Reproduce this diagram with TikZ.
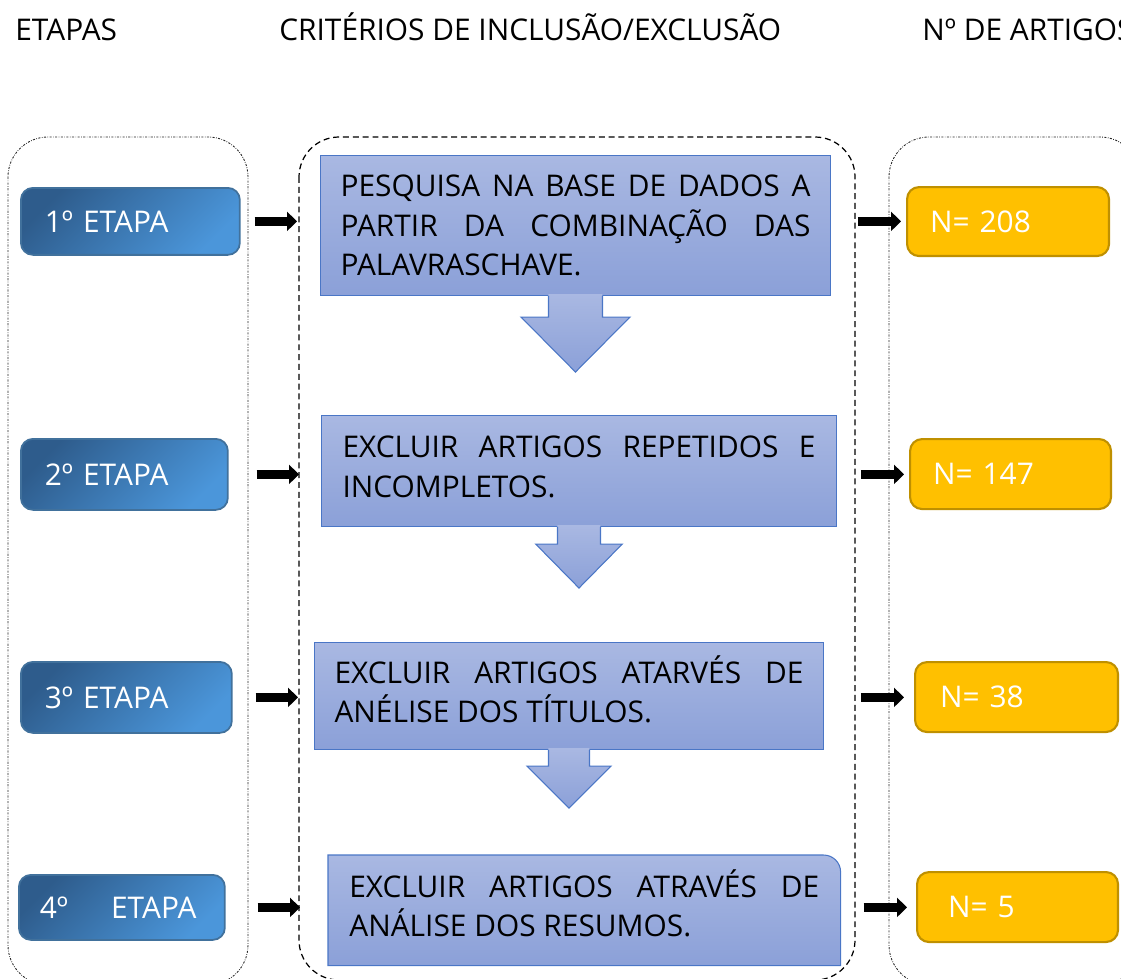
\documentclass[tikz,border=0pt]{standalone}
\usepackage{fontspec}
\setmainfont{Open Sans}
\usetikzlibrary{arrows.meta, positioning, backgrounds}
\tolerance=10000 \hbadness=10000 \hyphenpenalty=10000
\definecolor{etapadark}{HTML}{2E5C8C}
\definecolor{etapalight}{HTML}{4B96DA}
\definecolor{etapaedge}{HTML}{41719C}
\definecolor{crittop}{HTML}{A9B8E2}
\definecolor{critbot}{HTML}{8BA0D8}
\definecolor{critedge}{HTML}{4A76C6}
\definecolor{numfill}{HTML}{FFC000}
\definecolor{numedge}{HTML}{BF9000}
\tikzset{%
	every node/.style={font=\fontsize{17}{22.4}\selectfont},
	panel/.style={
		draw=black!85,
		line width=0.5pt,
		dash pattern=on 1.2pt off 0.8pt on 0.4pt off 0.8pt,
		rounded corners=0.8cm
	},
	midpanel/.style={
		draw=black,
		line width=0.7pt,
		dash pattern=on 3.4pt off 2.2pt,
		rounded corners=0.8cm
	},
	etapa/.style={
		anchor=north west,
		draw=etapaedge, line width=1pt,
		rounded corners=0.24cm,
		top color=etapadark, bottom color=etapalight, shading angle=45,
		text=white, align=left,
		inner xsep=0.48cm, inner ysep=0pt
	},
	crittext/.style={
		anchor=north west,
		text=black, align=justify,
		inner xsep=0.4cm, inner ysep=0pt
	},
	crit/.style={
		crittext,
		draw=critedge, line width=0.6pt,
		top color=crittop, bottom color=critbot
	},
	critshade/.style={top color=crittop, bottom color=critbot},
	critline/.style={draw=critedge, line width=0.6pt, line join=miter},
	numbox/.style={
		anchor=north west,
		draw=numedge, fill=numfill, line width=1.2pt,
		rounded corners=0.24cm,
		text=white, align=left,
		inner xsep=0.46cm, inner ysep=0pt
	},
	blk/.style={
		draw=black, line width=0.18cm,
		-{Triangle[length=0.2cm, width=0.38cm]}
	},
}
% block arrow under a criteria box: node, stem half, head half, stem height, head height
\newcommand{\critarrow}[5]{%
	\shade[critshade] (#1.south) ++(-#2,-2) -- ++(0,#4+2) -- ++(#2-#3,0) -- ++(#3,#5)
		-- ++(#3,-#5) -- ++(#2-#3,0) -- ++(0,-#4-2) -- cycle;
	\draw[critline] (#1.south) ++(-#2,0) -- ++(0,#4) -- ++(#2-#3,0) -- ++(#3,#5)
		-- ++(#3,-#5) -- ++(#2-#3,0) -- ++(0,-#4);
}

\begin{document}
\begin{tikzpicture}[x=0.02cm, y=-0.02cm]
	\clip (0,0) rectangle (1121,978);
	
	% headings
	\node[anchor=base west, inner sep=0pt] (hEtapas) at (15,40) {ETAPAS};
	\node[anchor=base west, inner sep=0pt] (hCrit) at (279,40) {CRITÉRIOS DE INCLUSÃO/EXCLUSÃO};
	\node[anchor=base west, inner sep=0pt] (hNum) at (922,40) {Nº DE ARTIGOS};
	
	% columns
	\draw[panel] (8,137) rectangle (248,985);
	\draw[midpanel] (299,137) rectangle (855,980);
	\draw[panel] (889,137) rectangle (1140,985);
	
	% etapas
	\node[etapa, text width=3.42cm, minimum height=1.34cm] (e1) at (20,187) {1º ETAPA};
	\node[etapa, text width=3.18cm, minimum height=1.42cm] (e2) at (20,438) {2º ETAPA};
	\node[etapa, text width=3.26cm, minimum height=1.42cm] (e3) at (20,661) {3º ETAPA};
	\node[etapa, inner xsep=0.42cm, text width=3.28cm, minimum height=1.3cm] (e4) at (18,874) {4º\hspace*{0.86cm}ETAPA};
	
	% criterios
	\node[crit, text width=9.4cm, minimum height=2.8cm] (c1) at (320,155)
		{PESQUISA NA BASE DE DADOS A\linebreak PARTIR DA COMBINAÇÃO DAS\linebreak PALAVRASCHAVE.};
	\node[crit, inner xsep=0.42cm, text width=9.46cm, minimum height=2.22cm] (c2) at (321,415)
		{EXCLUIR ARTIGOS REPETIDOS E\linebreak INCOMPLETOS.\vspace*{0.16cm}};
	\node[crit, text width=9.38cm, minimum height=2.14cm] (c3) at (314,642)
		{EXCLUIR ARTIGOS ATARVÉS DE\linebreak ANÉLISE DOS TÍTULOS.\vspace*{0.28cm}};
	\node[crittext, inner xsep=0.42cm, text width=9.4cm, minimum height=2.2cm] (c4) at (328,855)
		{EXCLUIR ARTIGOS ATRAVÉS DE\linebreak ANÁLISE DOS RESUMOS.\vspace*{0.28cm}};
	\begin{scope}[on background layer]
		\shade[critshade] (c4.south west) -- (c4.north west) [rounded corners=0.34cm] -- (c4.north east)
			[sharp corners] -- (c4.south east) -- cycle;
		\draw[critline] (c4.south west) -- (c4.north west) [rounded corners=0.34cm] -- (c4.north east)
			[sharp corners] -- (c4.south east) -- cycle;
	\end{scope}
	
	\critarrow{c1}{27}{54.5}{21}{55}
	\critarrow{c2}{21.5}{43.3}{17}{44}
	\critarrow{c3}{20.5}{42}{16}{42}
	
	% numero de artigos
	\node[numbox, text width=3.12cm, minimum height=1.38cm] (n1) at (906,186) {N= 208};
	\node[numbox, text width=3.1cm, minimum height=1.4cm] (n2) at (909,438) {N= 147};
	\node[numbox, inner xsep=0.5cm, text width=3.06cm, minimum height=1.4cm] (n3) at (914,661) {N= 38};
	\node[numbox, inner xsep=0.62cm, text width=2.78cm, minimum height=1.4cm] (n4) at (916,871) {N= 5};
	
	% arrows
	\draw[blk, shorten <=0.28cm, shorten >=0.46cm] (e1.east) -- (e1.east -| c1.west);
	\draw[blk, shorten <=0.56cm, shorten >=0.44cm] (e2.east) -- (e2.east -| c2.west);
	\draw[blk, shorten <=0.46cm, shorten >=0.32cm] (e3.east) -- (e3.east -| c3.west);
	\draw[blk, shorten <=0.64cm, shorten >=0.56cm] (e4.east) -- (e4.east -| c4.west);
	
	\draw[blk, shorten <=0.54cm, shorten >=0.1cm] (e1.east -| c1.east) -- (e1.east -| n1.west);
	\draw[blk, shorten <=0.48cm, shorten >=0.1cm] (e2.east -| c2.east) -- (e2.east -| n2.west);
	\draw[blk, shorten <=0.74cm, shorten >=0.2cm] (e3.east -| c3.east) -- (e3.east -| n3.west);
	\draw[blk, shorten <=0.46cm, shorten >=0.18cm] (e4.east -| c4.east) -- (e4.east -| n4.west);
	
\end{tikzpicture}
\end{document}
